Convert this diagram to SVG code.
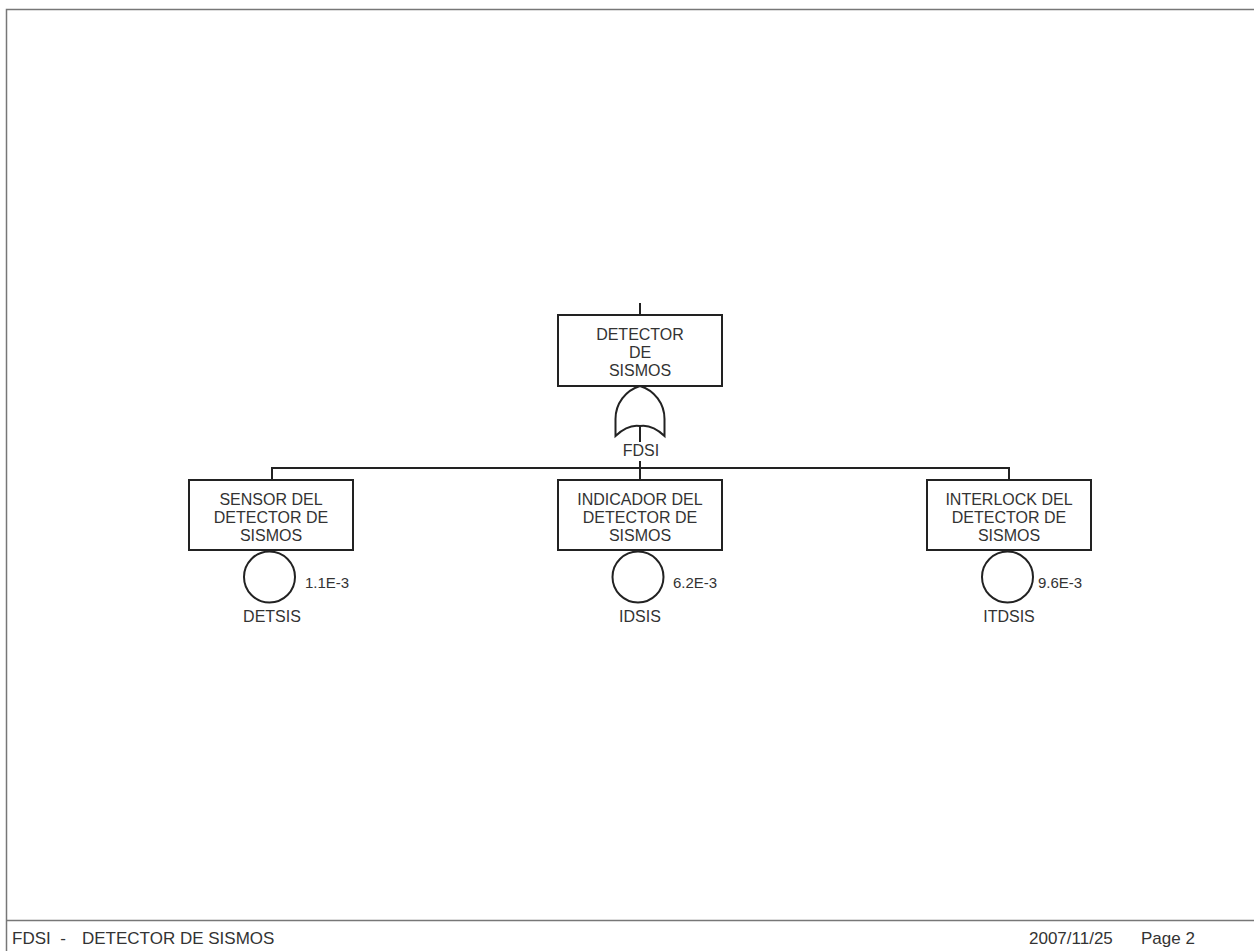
<svg xmlns="http://www.w3.org/2000/svg" width="1254" height="951" viewBox="0 0 1254 951">
<style>
text{font-family:"Liberation Sans",Arial,sans-serif;fill:#333;}
.t{font-size:16px;text-anchor:middle;}
.p{font-size:15px;}
.box{fill:#fff;stroke:#222;stroke-width:2;}
.ln{fill:none;stroke:#222;stroke-width:2;}
.frame{fill:none;stroke:#777;stroke-width:1.5;}
.ft{font-size:17px;}
</style>
<rect width="1254" height="951" fill="#fff"/>
<g id="frame">
<polyline class="frame" points="1256,9.5 6.5,9.5 6.5,953"/>
<line class="frame" x1="6" y1="920.5" x2="1256" y2="920.5"/>
<text class="ft" x="12" y="944" xml:space="preserve">FDSI  -</text>
<text class="ft" x="82" y="944">DETECTOR DE SISMOS</text>
<text class="ft" x="1029" y="944">2007/11/25</text>
<text class="ft" x="1141" y="944">Page 2</text>
</g>
<g id="connectors">
<line class="ln" x1="640" y1="303" x2="640" y2="315"/>
<line class="ln" x1="640" y1="426" x2="640" y2="442"/>
<line class="ln" x1="640" y1="461" x2="640" y2="468"/>
<polyline class="ln" points="272,480 272,468 1009,468 1009,480"/>
<line class="ln" x1="640" y1="468" x2="640" y2="480"/>
</g>
<g id="top">
<rect class="box" x="558" y="315" width="164" height="71"/>
<text class="t" x="640" y="340">DETECTOR</text>
<text class="t" x="640" y="358">DE</text>
<text class="t" x="640" y="376">SISMOS</text>
</g>
<g id="gate-FDSI">
<path class="ln" d="M615.5,436 L615.5,419 A34.5,34.5 0 0 1 640,386 A34.5,34.5 0 0 1 664.5,419 L664.5,436 Q652,424 640,426 Q628,424 615.5,436 Z" fill="#fff"/>
<text class="t" x="641" y="456">FDSI</text>
</g>
<g id="DETSIS">
<rect class="box" x="189" y="480" width="164" height="70"/>
<text class="t" x="271" y="505">SENSOR DEL</text>
<text class="t" x="271" y="523">DETECTOR DE</text>
<text class="t" x="271" y="541">SISMOS</text>
<circle class="ln" cx="269.5" cy="577" r="25.5"/>
<text class="p" x="305" y="588">1.1E-3</text>
<text class="t" x="272" y="622">DETSIS</text>
</g>
<g id="IDSIS">
<rect class="box" x="558" y="480" width="164" height="70"/>
<text class="t" x="640" y="505">INDICADOR DEL</text>
<text class="t" x="640" y="523">DETECTOR DE</text>
<text class="t" x="640" y="541">SISMOS</text>
<circle class="ln" cx="638" cy="577" r="25.5"/>
<text class="p" x="673" y="588">6.2E-3</text>
<text class="t" x="640" y="622">IDSIS</text>
</g>
<g id="ITDSIS">
<rect class="box" x="927" y="480" width="164" height="70"/>
<text class="t" x="1009" y="505">INTERLOCK DEL</text>
<text class="t" x="1009" y="523">DETECTOR DE</text>
<text class="t" x="1009" y="541">SISMOS</text>
<circle class="ln" cx="1007.5" cy="577" r="25.5"/>
<text class="p" x="1038" y="588">9.6E-3</text>
<text class="t" x="1009" y="622">ITDSIS</text>
</g>
</svg>
